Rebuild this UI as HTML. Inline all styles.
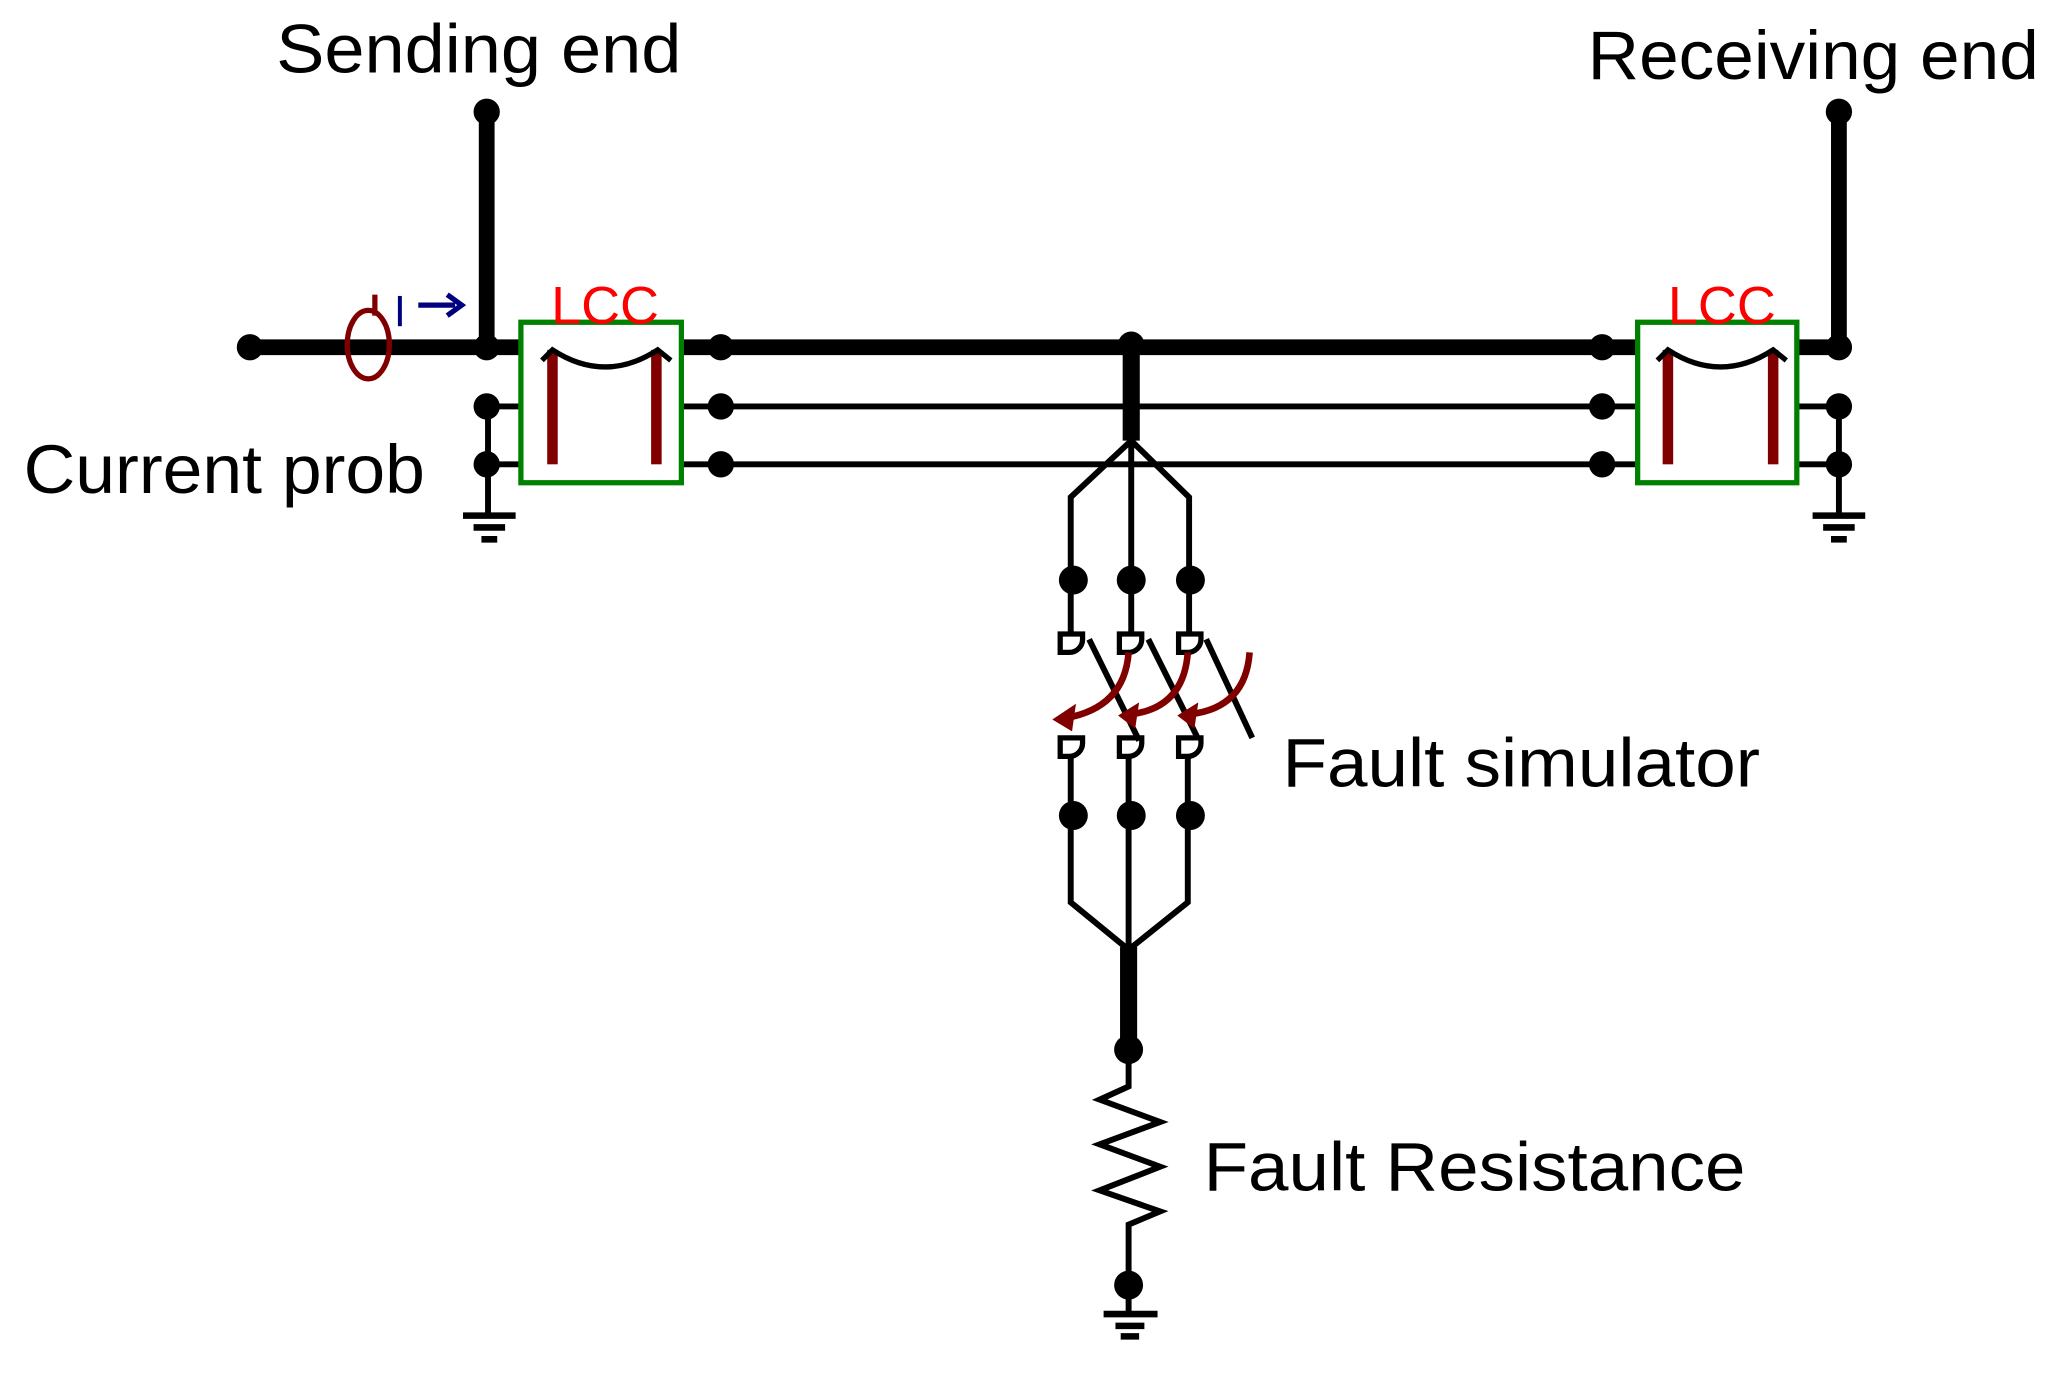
<!DOCTYPE html>
<html><head><meta charset="utf-8"><style>html,body{margin:0;padding:0;background:#fff}svg{display:block}</style></head>
<body>
<svg width="2052" height="1389" viewBox="0 0 1560 1056" preserveAspectRatio="none" xmlns="http://www.w3.org/2000/svg" font-family="'Liberation Sans', Arial, sans-serif">
<rect width="1560" height="1056" fill="#fff"/>
<g stroke="#000" fill="none" stroke-linecap="butt">
  <line x1="190" y1="264" x2="1398" y2="264" stroke-width="12"/>
  <line x1="370" y1="85" x2="370" y2="264" stroke-width="12"/>
  <line x1="1398" y1="85" x2="1398" y2="264" stroke-width="12"/>
  <line x1="370" y1="309" x2="1398" y2="309" stroke-width="4.5"/>
  <line x1="370" y1="353" x2="1398" y2="353" stroke-width="4.5"/>
  <line x1="371" y1="309" x2="371" y2="392" stroke-width="4.5"/>
  <line x1="1398" y1="309" x2="1398" y2="392" stroke-width="4.5"/>
  <line x1="352" y1="392" x2="392" y2="392" stroke-width="5"/>
  <line x1="360" y1="401" x2="384" y2="401" stroke-width="5"/>
  <line x1="366" y1="410" x2="378" y2="410" stroke-width="5"/>
  <line x1="1378" y1="392" x2="1418" y2="392" stroke-width="5"/>
  <line x1="1386" y1="401" x2="1410" y2="401" stroke-width="5"/>
  <line x1="1392" y1="410" x2="1404" y2="410" stroke-width="5"/>
  <line x1="860" y1="262" x2="860" y2="335" stroke-width="13"/>
  <path d="M860,335 L814,378 L814,486 M860,335 L860,486 M860,335 L904,378 L904,486" stroke-width="4.5"/>
  <path d="M814,576 L814,686 L858,722 L903,686 L903,576 M858,576 L858,722" stroke-width="4.5"/>
  <line x1="858" y1="720" x2="858" y2="791" stroke-width="13"/>
  <path d="M858,791 L858,826 L836,836 L882,853 L836,870 L882,887 L836,905 L882,921 L858,931 L858,999" stroke-width="4.5" stroke-linejoin="miter"/>
  <line x1="839" y1="999" x2="880" y2="999" stroke-width="5"/>
  <line x1="848" y1="1008" x2="870" y2="1008" stroke-width="5"/>
  <line x1="852" y1="1016" x2="866" y2="1016" stroke-width="5"/>
  <g stroke-width="4" fill="#fff">
    <path d="M806,482 h17 v4 a10,10 0 0 1 -10,10 h-7 z"/>
    <path d="M851,482 h17 v4 a10,10 0 0 1 -10,10 h-7 z"/>
    <path d="M896,482 h17 v4 a10,10 0 0 1 -10,10 h-7 z"/>
    <path d="M806,561 h17 v4 a10,10 0 0 1 -10,10 h-7 z"/>
    <path d="M851,561 h17 v4 a10,10 0 0 1 -10,10 h-7 z"/>
    <path d="M896,561 h17 v4 a10,10 0 0 1 -10,10 h-7 z"/>
  </g>
  <line x1="828" y1="486" x2="866" y2="563" stroke-width="4.5"/>
  <line x1="873" y1="486" x2="910" y2="560" stroke-width="4.5"/>
  <line x1="917" y1="486" x2="952" y2="561" stroke-width="4.5"/>
</g>
<g stroke="#800000" stroke-width="5" fill="none">
  <path d="M858,496 Q855,538 810,546"/>
  <path d="M903,496 Q900,538 860,543"/>
  <path d="M950,496 Q947,538 905,543"/>
</g>
<g fill="#800000">
  <path d="M800,547 L818,535 L815,556 Z"/>
  <path d="M850,544 L866,534 L863,554 Z"/>
  <path d="M895,544 L911,534 L908,554 Z"/>
</g>
<g fill="#000">
  <circle cx="190" cy="264" r="10"/><circle cx="370" cy="264" r="10"/><circle cx="370" cy="85" r="10"/>
  <circle cx="1398" cy="85" r="10"/><circle cx="1398" cy="264" r="10"/>
  <circle cx="548" cy="264" r="10"/><circle cx="860" cy="262" r="10"/><circle cx="1218" cy="264" r="10"/>
  <circle cx="370" cy="309" r="10"/><circle cx="370" cy="353" r="10"/>
  <circle cx="548" cy="309" r="10"/><circle cx="548" cy="353" r="10"/>
  <circle cx="1218" cy="309" r="10"/><circle cx="1218" cy="353" r="10"/>
  <circle cx="1398" cy="309" r="10"/><circle cx="1398" cy="353" r="10"/>
  <circle cx="816" cy="441" r="11"/><circle cx="860" cy="441" r="11"/><circle cx="905" cy="441" r="11"/>
  <circle cx="816" cy="620" r="11"/><circle cx="860" cy="620" r="11"/><circle cx="905" cy="620" r="11"/>
  <circle cx="858" cy="798" r="11"/><circle cx="858" cy="977" r="11"/>
</g>
<g>
  <rect x="396" y="245" width="122" height="122" fill="#fff" stroke="#008000" stroke-width="4"/>
  <rect x="416" y="266" width="8" height="87" fill="#800000"/>
  <rect x="495" y="266" width="8" height="87" fill="#800000"/>
  <path d="M412,274 L420,266 Q460,292 500,266 L510,274" stroke="#000" stroke-width="4" fill="none"/>
  <rect x="1245" y="245" width="121" height="122" fill="#fff" stroke="#008000" stroke-width="4"/>
  <rect x="1264" y="266" width="8" height="87" fill="#800000"/>
  <rect x="1344" y="266" width="8" height="87" fill="#800000"/>
  <path d="M1260,274 L1268,266 Q1308,292 1348,266 L1358,274" stroke="#000" stroke-width="4" fill="none"/>
</g>
<ellipse cx="280" cy="262" rx="16" ry="26" stroke="#800000" stroke-width="4" fill="none"/>
<line x1="285" y1="224" x2="285" y2="240" stroke="#800000" stroke-width="4"/>
<line x1="304" y1="225" x2="304" y2="248" stroke="#000080" stroke-width="3"/>
<line x1="318" y1="232" x2="346" y2="232" stroke="#000080" stroke-width="4"/>
<path d="M340,224 L351,232 L340,240" stroke="#000080" stroke-width="4" fill="none"/>
<g font-size="52" fill="#000">
  <text x="210" y="55" textLength="308" lengthAdjust="spacingAndGlyphs">Sending end</text>
  <text x="1207" y="60" textLength="343" lengthAdjust="spacingAndGlyphs">Receiving end</text>
  <text x="18" y="375" textLength="305" lengthAdjust="spacingAndGlyphs">Current prob</text>
  <text x="975" y="598" textLength="363" lengthAdjust="spacingAndGlyphs">Fault simulator</text>
  <text x="915" y="905" textLength="412" lengthAdjust="spacingAndGlyphs">Fault Resistance</text>
</g>
<g font-size="40" fill="#ff0000">
  <text x="419" y="246" textLength="82" lengthAdjust="spacingAndGlyphs">LCC</text>
  <text x="1268" y="246" textLength="82" lengthAdjust="spacingAndGlyphs">LCC</text>
</g>
</svg>
</body></html>
